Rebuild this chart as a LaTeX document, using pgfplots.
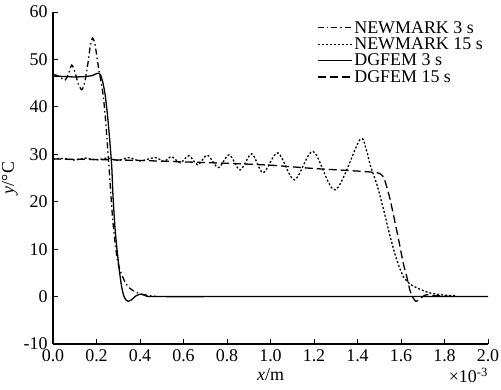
\documentclass[border=0pt]{standalone}
\usepackage{pgfplots}
\pgfplotsset{compat=1.18}
\usepackage{fontspec}
\setmainfont{Liberation Serif}
\begin{document}
\begin{tikzpicture}
\begin{axis}[
  name=ax,
  scale only axis,
  width=435bp, height=332bp,
  xmin=0, xmax=2, ymin=-10, ymax=60,
  axis x line*=bottom, axis y line*=left,
  axis line style={line width=1.3pt,-},
  xtick={0,0.2,...,2.0},
  ytick={-10,0,10,...,60},
  tick align=inside,
  major tick length=5bp,
  tick style={line width=1pt,black},
  every tick label/.append style={font=\fontsize{18}{20}\selectfont},
  xticklabel style={yshift=-2bp},
  yticklabel style={xshift=-2bp},
  /pgf/number format/assume math mode=true,
  xticklabel={\pgfmathprintnumber[fixed,fixed zerofill,precision=1,assume math mode=true]{\tick}},
  yticklabel={\pgfmathprintnumber[assume math mode=true]{\tick}},
  xlabel={\fontsize{18}{20}\selectfont\textit{x}/m},
  ylabel={\fontsize{18}{20}\selectfont\textit{y}/°C},
  xlabel style={yshift=0bp},
  ylabel style={yshift=-1bp},
  legend style={draw=none, fill=none, font=\fontsize{18}{20}\selectfont,
    at={(1.0,0.985)}, anchor=north east, row sep=-1bp,
    /tikz/every even column/.append style={column sep=2bp}},
  legend cell align=left,
  legend image code/.code={\draw[#1] (0bp,0bp) -- (34bp,0bp);},
  every axis plot/.append style={line width=1.3pt, black},
  clip=false,
]
\addplot[dash pattern=on 6bp off 3bp on 1.5bp off 3bp, smooth, tension=0.4] coordinates {
(0,46.8) (0.02,46.6) (0.04,46.0) (0.055,45.6) (0.07,46.8) (0.086,48.8) (0.1,47.5)
(0.115,45) (0.132,43.6) (0.145,45) (0.16,49) (0.172,53) (0.182,54.5) (0.192,53.5)
(0.202,50.5) (0.212,47.5) (0.222,45) (0.232,42) (0.242,37) (0.25,32) (0.258,27)
(0.266,21.5) (0.275,16) (0.285,11.5) (0.295,8) (0.305,6) (0.316,4.6) (0.33,3.2)
(0.345,2.1) (0.37,1.2) (0.4,0.6) (0.43,0.3) (0.47,0.1)
};
\addlegendentry{NEWMARK 3 s}
\addplot[dash pattern=on 2bp off 2bp, smooth, tension=0.5] coordinates {
(0,29.0) (0.05,29.1) (0.1,28.8) (0.15,29.2) (0.2,28.8) (0.25,29.2) (0.3,28.7)
(0.35,29.3) (0.40,28.6) (0.47,29.3) (0.51,28.5) (0.545,29.5) (0.585,28.2)
(0.625,29.7) (0.665,27.8) (0.71,29.8) (0.76,27.2) (0.81,29.9) (0.86,26.7)
(0.914,30.1) (0.966,26.1) (1.034,30.3) (1.11,24.6) (1.196,30.6) (1.297,22.5)
(1.41,33.0) (1.44,31) (1.46,27.5) (1.49,23.5) (1.52,18.3) (1.55,12.7) (1.58,7.8)
(1.61,4.3) (1.64,2.7) (1.67,1.9) (1.73,0.8) (1.8,0.3) (1.85,0.2)
};
\addlegendentry{NEWMARK 15 s}
\addplot[solid, smooth, tension=0.3] coordinates {
(0,46.5) (0.05,46.4) (0.1,46.3) (0.15,46.4) (0.18,46.6) (0.2,47.0) (0.21,47.1)
(0.22,46.6) (0.23,45.0) (0.24,42.5) (0.25,38.5) (0.26,33.5) (0.27,27.5) (0.276,21)
(0.285,14.5) (0.293,10.5) (0.305,5.5) (0.315,2.2) (0.325,0.2) (0.335,-0.7)
(0.345,-1.0) (0.36,-0.7) (0.38,0.1) (0.4,0.5) (0.43,0.2) (0.46,0) (1.0,0) (2.0,0)
};
\addlegendentry{DGFEM 3 s}
\addplot[dash pattern=on 8bp off 4bp, smooth, tension=0.3] coordinates {
(0,29.0) (0.2,28.9) (0.4,28.7) (0.6,28.4) (0.8,28.1) (1.0,27.7) (1.2,27.0)
(1.35,26.6) (1.45,26.3) (1.5,26.0) (1.52,25.2) (1.534,23.2) (1.55,20.5)
(1.563,17.7) (1.586,12.7) (1.61,7.1) (1.626,4.3) (1.64,1.5) (1.652,0)
(1.668,-1.0) (1.685,-0.6) (1.70,0) (1.718,0.4) (1.75,0.2) (1.8,0.1) (1.85,0)
};
\addlegendentry{DGFEM 15 s}
\end{axis}
\node[anchor=north east, font=\fontsize{18}{20}\selectfont, inner sep=0pt]
  at ([xshift=0bp,yshift=-24bp]ax.south east) {×10\textsuperscript{-3}};
\pgfresetboundingbox
\path[use as bounding box] ([xshift=-53bp,yshift=-46bp]ax.south west) rectangle ([xshift=13bp,yshift=12bp]ax.north east);
\end{tikzpicture}
\end{document}
